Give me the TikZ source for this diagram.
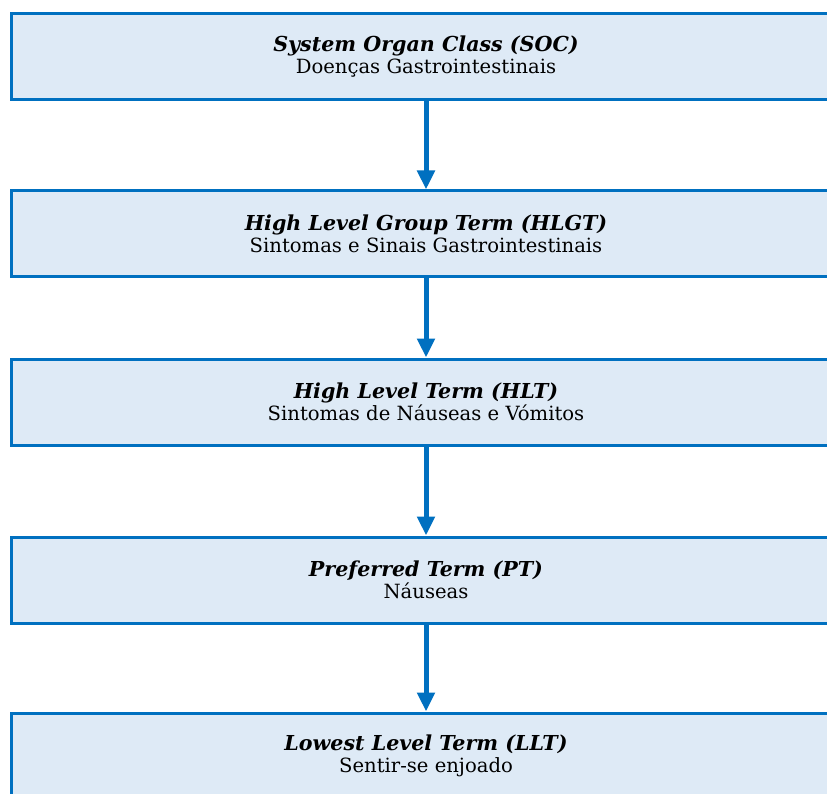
\documentclass[tikz,border=0pt]{standalone}
\usepackage{fontspec}
\setmainfont{DejaVu Serif}
\usetikzlibrary{arrows.meta,positioning}
\definecolor{boxblue}{RGB}{0,112,192}
\definecolor{boxfill}{RGB}{222,234,246}
\newcommand{\levelname}[1]{{\fontsize{20.6}{22}\selectfont\textbf{\textit{#1}}}}

\begin{document}
\begin{tikzpicture}[x=1pt,y=-1pt,
	level/.style={draw=boxblue, line width=3pt, fill=boxfill, minimum width=830pt, minimum height=86pt, inner sep=0pt, align=center, font=\fontsize{19.6}{22}\selectfont},
	link/.style={draw=boxblue, line width=5pt, -{Triangle[length=19pt,width=17pt]}}]
	\useasboundingbox (0,0) rectangle (827,794);
	\clip (0,0) rectangle (827,794);
	\node[level] (soc) at (426,57) {\levelname{System Organ Class (SOC)}\\Doenças Gastrointestinais};
	\node[level] (hlgt) at (426,234) {\levelname{High Level Group Term (HLGT)}\\Sintomas e Sinais Gastrointestinais};
	\node[level] (hlt) at (426,402) {\levelname{High Level Term (HLT)}\\Sintomas de Náuseas e Vómitos};
	\node[level] (pt) at (426,580) {\levelname{Preferred Term (PT)}\\Náuseas};
	\node[level] (llt) at (426,756) {\levelname{Lowest Level Term (LLT)}\\Sentir-se enjoado};
	\draw[link] (soc.south) -- (hlgt.north);
	\draw[link] (hlgt.south) -- (hlt.north);
	\draw[link] (hlt.south) -- (pt.north);
	\draw[link] (pt.south) -- (llt.north);
\end{tikzpicture}
\end{document}
